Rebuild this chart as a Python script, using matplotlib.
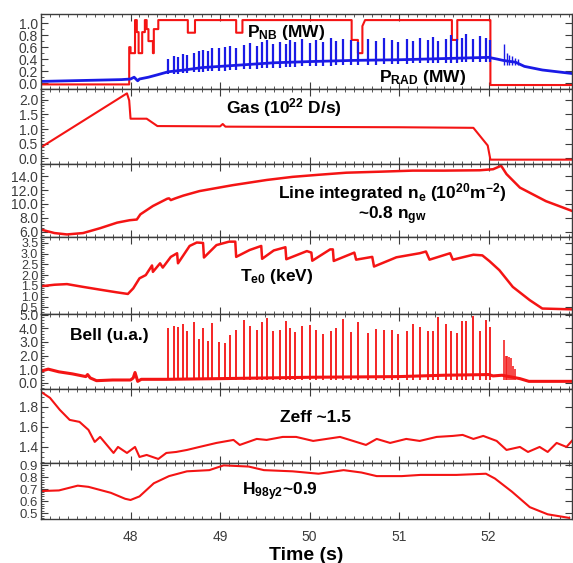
import matplotlib
matplotlib.use("Agg")
import matplotlib.pyplot as plt
from matplotlib.ticker import MultipleLocator, FormatStrFormatter

plt.rcParams['font.family'] = ['Liberation Sans', 'DejaVu Sans']
plt.rcParams['mathtext.fontset'] = 'custom'
plt.rcParams['mathtext.rm'] = 'Liberation Sans'
plt.rcParams['mathtext.bf'] = 'Liberation Sans:bold'
plt.rcParams['mathtext.it'] = 'Liberation Sans:italic'

RED = '#f41414'
BLUE = '#1a1ae6'
GREY = '#3c3c3c'

# ---------------- data ----------------
# NBI power (MW), step trace
pnb_t = [47.0, 47.985, 47.985, 48.0, 48.0, 48.05, 48.05, 48.07, 48.07, 48.09, 48.09, 48.13,
         48.13, 48.16, 48.16, 48.18, 48.18, 48.2, 48.2, 48.25, 48.25, 48.26, 48.26, 48.31,
         48.31, 48.64, 48.64, 48.72, 48.72, 49.18, 49.18, 49.25, 49.25, 50.47, 50.47, 50.54,
         50.54, 50.59, 50.59, 50.62, 51.59, 51.59, 51.65, 51.65, 52.02, 52.02, 52.94]
pnb_v = [-0.02, -0.02, 0.6, 0.6, 0.5, 0.5, 1.05, 1.05, 0.85, 0.85, 0.5, 0.5,
         0.85, 0.85, 1.05, 1.05, 0.9, 0.9, 0.7, 0.7, 0.5, 0.5, 0.9, 0.9,
         1.05, 1.05, 0.84, 0.84, 1.05, 1.05, 0.84, 0.84, 1.05, 1.05, 0.72, 0.72,
         0.5, 0.5, 0.95, 1.05, 1.05, 0.72, 0.72, 1.05, 1.05, -0.03, -0.03]

# Radiated power baseline (MW)
prad_t = [47.0, 47.3, 47.6, 47.9, 48.0, 48.04, 48.08, 48.1, 48.2, 48.3, 48.42, 48.6, 48.8,
          49.0, 49.3, 49.6, 50.0, 50.5, 51.0, 51.5, 52.0, 52.1, 52.16, 52.25, 52.3, 52.4,
          52.6, 52.94]
prad_v = [0.03, 0.04, 0.05, 0.06, 0.07, 0.10, 0.04, 0.07, 0.10, 0.14, 0.19, 0.22, 0.26,
          0.28, 0.31, 0.34, 0.36, 0.38, 0.39, 0.41, 0.43, 0.40, 0.38, 0.36, 0.35, 0.28,
          0.22, 0.16]

# ELM times (s)
elm_t = [48.42, 48.48, 48.53, 48.59, 48.63, 48.71, 48.76, 48.81, 48.86, 48.91, 48.99,
         49.05, 49.11, 49.18, 49.27, 49.33, 49.41, 49.47, 49.52, 49.59, 49.67, 49.74,
         49.78, 49.84, 49.91, 50.00, 50.07, 50.15, 50.24, 50.29, 50.37, 50.46, 50.54,
         50.65, 50.74, 50.83, 50.92, 50.99, 51.09, 51.16, 51.23, 51.32, 51.38, 51.44,
         51.52, 51.58, 51.65, 51.70, 51.75, 51.83, 51.90, 51.97, 52.02]
prad_elm_top = [0.40, 0.46, 0.44, 0.48, 0.47, 0.50, 0.53, 0.55, 0.53, 0.58, 0.59,
                0.60, 0.62, 0.59, 0.64, 0.67, 0.62, 0.68, 0.72, 0.65, 0.69, 0.66,
                0.72, 0.68, 0.73, 0.67, 0.72, 0.68, 0.75, 0.70, 0.74, 0.72, 0.68,
                0.74, 0.71, 0.76, 0.72, 0.69, 0.73, 0.70, 0.75, 0.72, 0.77, 0.71,
                0.74, 0.80, 0.73, 0.76, 0.82, 0.74, 0.78, 0.75, 0.72]
prad_elm_bot = [0.15, 0.16, 0.16, 0.17, 0.17, 0.18, 0.19, 0.19, 0.20, 0.20, 0.21,
                0.21, 0.22, 0.22, 0.23, 0.23, 0.24, 0.25, 0.25, 0.26, 0.26, 0.27,
                0.27, 0.27, 0.28, 0.28, 0.29, 0.29, 0.29, 0.30, 0.30, 0.30, 0.31,
                0.31, 0.31, 0.32, 0.32, 0.32, 0.32, 0.33, 0.33, 0.33, 0.33, 0.34,
                0.34, 0.34, 0.34, 0.35, 0.35, 0.35, 0.35, 0.36, 0.36]
prad_burst_t = [52.17, 52.20, 52.23, 52.26, 52.30, 52.33]
prad_burst_top = [0.66, 0.50, 0.47, 0.45, 0.42, 0.40]

# Gas injection (1e22 D/s)
gas_t = [47.0, 47.96, 47.985, 48.0, 48.18, 48.3, 49.0, 49.03, 49.06, 50.0, 51.0, 51.83,
         51.99, 52.02, 52.94]
gas_v = [0.38, 2.21, 1.97, 1.35, 1.35, 1.10, 1.09, 1.17, 1.08, 1.07, 1.06, 1.04,
         0.44, -0.04, -0.04]

# Line integrated density (1e20 m^-2)
ne_t = [47.0, 47.15, 47.29, 47.47, 47.66, 47.85, 47.99, 48.07, 48.11, 48.25, 48.41, 48.43,
        48.45, 48.5, 48.59, 48.77, 49.14, 49.52, 49.81, 50.1, 50.41, 50.8, 51.15, 51.5,
        51.9, 52.05, 52.14, 52.2, 52.35, 52.64, 52.94]
ne_v = [6.3, 5.8, 5.6, 5.8, 6.5, 7.3, 7.65, 7.75, 8.5, 9.7, 10.75, 10.8,
        10.55, 10.8, 11.2, 11.85, 12.7, 13.45, 13.9, 14.2, 14.5, 14.65, 14.8, 14.8,
        14.85, 15.0, 15.5, 14.3, 12.35, 10.4, 8.95]

# Central electron temperature (keV)
te_t = [47.0, 47.15, 47.29, 47.47, 47.66, 47.84, 47.97, 48.03, 48.1, 48.17, 48.24, 48.25,
        48.33, 48.36, 48.45, 48.52, 48.53, 48.66, 48.74, 48.81, 48.82, 48.96, 49.1, 49.17,
        49.18, 49.33, 49.46, 49.47, 49.6, 49.73, 49.74, 49.97, 50.02, 50.03, 50.23, 50.26,
        50.27, 50.5, 50.52, 50.7, 50.72, 50.97, 51.23, 51.3, 51.34, 51.57, 51.6, 51.83,
        51.93, 52.01, 52.12, 52.27, 52.46, 52.6, 52.94]
te_v = [1.48, 1.55, 1.58, 1.45, 1.32, 1.2, 1.12, 1.38, 1.85, 2.0, 2.45, 2.15,
        2.55, 2.35, 2.85, 3.02, 2.55, 3.36, 3.52, 3.5, 2.82, 3.4, 3.56, 3.56,
        2.85, 3.17, 3.36, 2.76, 3.15, 3.3, 2.74, 3.12, 3.05, 2.67, 3.2, 3.2,
        2.66, 3.05, 2.72, 2.85, 2.4, 2.83, 3.02, 3.1, 2.72, 3.02, 2.72, 2.95,
        2.92, 2.65, 2.23, 1.45, 0.83, 0.44, 0.4]

# Bell signal (u.a.)
bell_t = [47.0, 47.08, 47.2, 47.35, 47.5, 47.52, 47.55, 47.62, 47.8, 48.0, 48.03, 48.05,
          48.08, 48.12, 48.4, 49.0, 50.0, 51.0, 51.5, 52.0, 52.05, 52.15, 52.35, 52.45,
          52.94]
bell_v = [0.85, 1.0, 0.8, 0.65, 0.45, 0.6, 0.35, 0.15, 0.2, 0.2, 0.35, 0.75,
          0.1, 0.25, 0.25, 0.3, 0.4, 0.45, 0.55, 0.6, 0.5, 0.55, 0.3, 0.1,
          0.1]
bell_elm_top = [4.0, 4.2, 4.1, 4.3, 3.8, 4.5, 3.2, 4.0, 3.1, 4.4, 3.0,
                2.95, 3.5, 3.9, 4.6, 4.2, 3.9, 4.5, 4.75, 3.8, 3.85, 4.55,
                4.0, 3.7, 4.2, 4.25, 3.9, 3.6, 3.8, 4.0, 4.7, 3.7, 4.5,
                3.65, 3.97, 3.9, 3.9, 3.6, 3.8, 4.3, 4.1, 3.8, 3.8, 4.85,
                4.35, 3.8, 3.65, 4.55, 4.55, 4.9, 3.8, 4.65, 4.1]
bell_burst_t = [52.17, 52.19, 52.21, 52.23, 52.25, 52.27, 52.30]
bell_burst_top = [3.15, 2.0, 2.0, 1.9, 1.8, 1.2, 1.0]

# Zeff
zeff_t = [47.0, 47.1, 47.21, 47.32, 47.43, 47.53, 47.6, 47.66, 47.81, 47.86, 47.96, 48.05,
          48.1, 48.18, 48.31, 48.4, 48.51, 48.63, 48.77, 48.96, 49.15, 49.22, 49.41, 49.52,
          49.7, 49.85, 50.04, 50.19, 50.34, 50.45, 50.63, 50.75, 50.9, 51.08, 51.23, 51.42,
          51.6, 51.71, 51.83, 51.94, 52.09, 52.2, 52.35, 52.44, 52.57, 52.66, 52.76, 52.87,
          52.94]
zeff_v = [1.95, 1.89, 1.77, 1.67, 1.65, 1.57, 1.45, 1.5, 1.34, 1.4, 1.34, 1.4,
          1.3, 1.32, 1.28, 1.34, 1.35, 1.37, 1.4, 1.44, 1.47, 1.42, 1.48, 1.47,
          1.5, 1.5, 1.46, 1.48, 1.5, 1.47, 1.42, 1.48, 1.44, 1.48, 1.46, 1.5,
          1.51, 1.52, 1.48, 1.51, 1.46, 1.37, 1.4, 1.35, 1.4, 1.35, 1.44, 1.4,
          1.47]

# H98y2 confinement factor
h98_t = [47.0, 47.2, 47.41, 47.53, 47.78, 47.94, 48.0, 48.1, 48.26, 48.43, 48.63, 48.88,
         49.04, 49.32, 49.49, 49.81, 50.1, 50.38, 50.58, 50.75, 51.03, 51.24, 51.64, 51.97,
         52.07, 52.26, 52.46, 52.66, 52.9]
h98_v = [0.685, 0.69, 0.73, 0.72, 0.67, 0.62, 0.61, 0.64, 0.75, 0.81, 0.85, 0.86,
         0.9, 0.89, 0.86, 0.85, 0.83, 0.86, 0.84, 0.81, 0.81, 0.82, 0.82, 0.83,
         0.79, 0.68, 0.55, 0.49, 0.46]

xticks = [48, 49, 50, 51, 52]

# ---------------- figure ----------------
fig = plt.figure(figsize=(5.73, 5.63), dpi=100)
gs = fig.add_gridspec(7, 1, height_ratios=[75, 75, 72, 77, 75, 74, 56],
                      left=0.0716, right=0.998, top=0.975, bottom=0.078, hspace=0)
axes = [fig.add_subplot(gs[i]) for i in range(7)]

cfg = [((-0.1, 1.15), 0.2, 0.1, 10),
       ((-0.2, 2.35), 0.5, 0.1, 10),
       ((5.3, 15.7), 2.0, 0.5, 10),
       ((0.2, 3.8), 0.5, 0.1, 9),
       ((-0.45, 5.08), 1.0, 0.2, 10),
       ((1.24, 1.98), 0.2, 0.05, 10),
       ((0.45, 0.92), 0.1, 0.02, 9.5)]

for ax, (yl, maj, mnr, fs) in zip(axes, cfg):
    ax.set_xlim(47.0, 52.93)
    ax.set_ylim(*yl)
    ax.yaxis.set_major_locator(MultipleLocator(maj))
    ax.yaxis.set_minor_locator(MultipleLocator(mnr))
    ax.yaxis.set_major_formatter(FormatStrFormatter('%.1f'))
    ax.set_xticks(xticks)
    ax.xaxis.set_minor_locator(MultipleLocator(0.1))
    ax.tick_params(which='both', direction='in', top=True, right=True,
                   color=GREY, labelcolor=GREY, labelsize=fs, pad=2)
    ax.tick_params(which='major', length=5, width=0.8)
    ax.tick_params(which='minor', length=2.5, width=0.6)
    ax.tick_params(axis='y', which='minor', right=False)
    for s in ax.spines.values():
        s.set_color(GREY)
        s.set_linewidth(1.0)
    if ax is not axes[-1]:
        ax.tick_params(axis='x', labelbottom=False)
axes[-1].tick_params(axis='x', which='major', pad=8, labelsize=10)

lw = 1.5
a = axes[0]
a.plot(pnb_t, pnb_v, color=RED, lw=lw)
a.plot(prad_t, prad_v, color=BLUE, lw=lw + 0.5)
a.vlines(elm_t, prad_elm_bot, prad_elm_top, color=BLUE, lw=1.6)
a.vlines(prad_burst_t, 0.3, prad_burst_top, color=BLUE, lw=1.0)

axes[1].plot(gas_t, gas_v, color=RED, lw=lw)
axes[2].plot(ne_t, ne_v, color=RED, lw=lw + 0.3)
axes[3].plot(te_t, te_v, color=RED, lw=lw + 0.3)
b = axes[4]
b.plot(bell_t, bell_v, color=RED, lw=lw + 0.7)
b.vlines(elm_t, 0.2, bell_elm_top, color=RED, lw=1.3)
b.vlines(bell_burst_t, 0.2, bell_burst_top, color=RED, lw=1.1)
axes[5].plot(zeff_t, zeff_v, color=RED, lw=lw)
axes[6].plot(h98_t, h98_v, color=RED, lw=lw)

tk = dict(fontsize=12.5, color='black', va='baseline', fontweight='bold')
axes[0].text(49.3, 0.77, r'P$_{\mathbf{NB}}$ (MW)', **tk)
axes[0].text(50.78, 0.02, r'P$_{\mathbf{RAD}}$ (MW)', **tk)
axes[1].text(49.07, 1.53, r'Gas (10$^{\mathbf{22}}$ D/s)', **tk)
axes[2].text(50.92, 10.8, r'Line integrated n$_{\mathbf{e}}$ (10$^{\mathbf{20}}$m$^{\mathbf{-2}}$)',
             ha='center', **tk)
axes[2].text(50.92, 7.75, r'~0.8 n$_{\mathbf{gw}}$', ha='center', **tk)
axes[3].text(49.22, 1.73, r'T$_{\mathbf{e0}}$ (keV)', **tk)
axes[4].text(47.32, 3.16, 'Bell (u.a.)', **tk)
axes[5].text(49.67, 1.65, 'Zeff ~1.5', **tk)
axes[6].text(49.25, 0.65, r'H$_{\mathbf{98y2}}$~0.9', **tk)

axes[-1].set_xlabel('Time (s)', fontsize=14, fontweight='bold', color='black', labelpad=2)

fig.savefig('out.png', dpi=100)
